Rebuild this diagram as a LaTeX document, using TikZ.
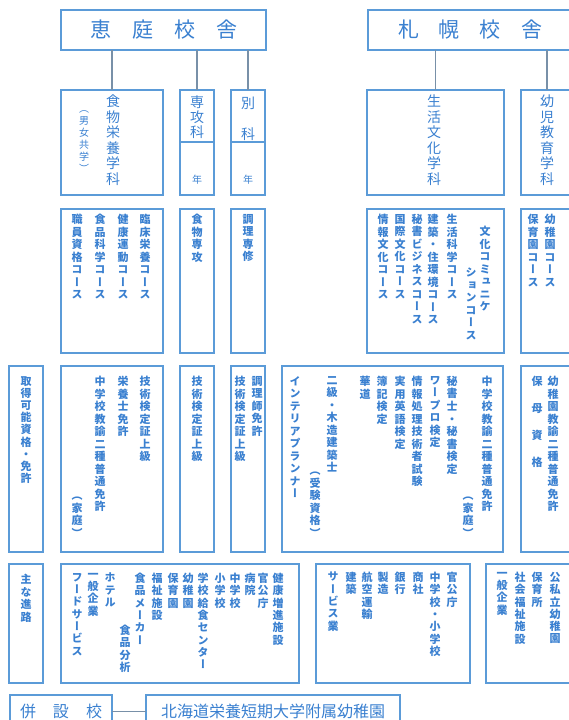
\documentclass[tikz,border=0pt]{standalone}
\usepackage{fontspec}
\usepackage{xcolor}
\usepackage{tikz}
\usetikzlibrary{positioning}
\newfontfamily\jpfont{Noto Sans CJK JP}
\newfontfamily\tatefont[RawFeature=+vert]{Noto Sans CJK JP}
\definecolor{lineblue}{HTML}{5B9BD8}
\definecolor{textblue}{HTML}{3A80D0}
\definecolor{linkgray}{HTML}{7890A8}
% one character per line, top to bottom
\makeatletter
\def\tate@loop#1{\ifx\relax#1\else\hbox to 1em{\hss#1\hss}\expandafter\tate@loop\fi}
\newcommand\tate[2][12.5pt]{\vtop{\baselineskip=#1\lineskiplimit=-50pt\lineskip=0pt\tate@loop#2\relax}}
\makeatother

\begin{document}
\begin{tikzpicture}[x=1pt, y=-1pt,
  box/.style={draw=lineblue, line width=1.3pt, inner sep=0pt, outer sep=0pt},
  link/.style={draw=linkgray, line width=1.1pt},
  tatecol/.style={anchor=north, inner sep=0pt, text=textblue, font=\tatefont\bfseries\fontsize{11}{12}\selectfont},
  bigcol/.style={tatecol, font=\tatefont\fontsize{14}{15}\selectfont},
  smallcol/.style={tatecol, font=\tatefont\fontsize{10}{11}\selectfont},
  headtext/.style={text=textblue, font=\jpfont\fontsize{21}{21}\selectfont}]
\useasboundingbox (0,0) rectangle (568,720);

% campuses
\node[box, headtext, minimum width=205pt, minimum height=40pt] (eniwa) at (163.5,30) {恵\hspace{21pt}庭\hspace{21pt}校\hspace{21pt}舎};
\node[box, minimum width=212pt, minimum height=40pt] (sapporo) at (474,30) {};
\node[headtext] (sapporotxt) at (470,30) {札\hspace{20pt}幌\hspace{20pt}校\hspace{20pt}舎};

% departments
\node[box, minimum width=102pt, minimum height=105pt] (shoku1) at (112,142.5) {};
\node[box, minimum width=34pt, minimum height=105pt] (senko1) at (197,142.5) {};
\node[box, minimum width=34pt, minimum height=105pt] (bekka1) at (248,142.5) {};
\node[box, minimum width=137pt, minimum height=105pt] (seikatsu1) at (435.5,142.5) {};
\node[box, minimum width=52pt, minimum height=105pt] (youji1) at (547,142.5) {};
\draw[lineblue, line width=1.1pt] (senko1.west |- 0,142) -- (senko1.east |- 0,142);
\draw[lineblue, line width=1.1pt] (bekka1.west |- 0,142) -- (bekka1.east |- 0,142);

\draw[link] (eniwa.south -| shoku1.north) -- (shoku1.north);
\draw[link] (eniwa.south -| senko1.north) -- (senko1.north);
\draw[link] (eniwa.south -| bekka1.north) -- (bekka1.north);
\draw[link] (sapporo.south -| seikatsu1.north) -- (seikatsu1.north);
\draw[link] (sapporo.south -| youji1.north) -- (youji1.north);

\node[bigcol] (d1) at (113,95) {\tate[15.5pt]{食物栄養学科}};
\node[smallcol] (d1b) at (84,110) {\tate[12pt]{（男女共学）}};
\node[bigcol] (d2) at (197,96) {\tate[15pt]{専攻科}};
\node[smallcol] (d2b) at (197,175) {年};
\node[bigcol] (d3) at (248,97) {\tate[15.5pt]{別　科}};
\node[smallcol] (d3b) at (248,175) {年};
\node[bigcol] (d4) at (434,95) {\tate[15.5pt]{生活文化学科}};
\node[bigcol] (d5) at (547,95) {\tate[15.5pt]{幼児教育学科}};

% courses
\node[box, minimum width=102pt, minimum height=144pt] (shoku2) at (112,281) {};
\node[box, minimum width=34pt, minimum height=144pt] (senko2) at (197,281) {};
\node[box, minimum width=34pt, minimum height=144pt] (bekka2) at (248,281) {};
\node[box, minimum width=137pt, minimum height=144pt] (seikatsu2) at (435.5,281) {};
\node[box, minimum width=52pt, minimum height=144pt] (youji2) at (547,281) {};

\node[tatecol] (c1) at (145,214) {\tate{臨床栄養コース}};
\node[tatecol] (c2) at (123,214) {\tate{健康運動コース}};
\node[tatecol] (c3) at (100,214) {\tate{食品科学コース}};
\node[tatecol] (c4) at (77,214) {\tate{職員資格コース}};
\node[tatecol] (c5) at (197,214) {\tate{食物専攻}};
\node[tatecol] (c6) at (248,214) {\tate{調理専修}};
\node[tatecol] (c7) at (485,226) {\tate{文化コミュニケ}};
\node[tatecol] (c8) at (471,268) {\tate{ションコース}};
\node[tatecol] (c9) at (452,214) {\tate{生活科学コース}};
\node[tatecol] (c10) at (433,214) {\tate{建築・住環境コース}};
\node[tatecol] (c11) at (417,214) {\tate{秘書ビジネスコース}};
\node[tatecol] (c12) at (400,214) {\tate{国際文化コース}};
\node[tatecol] (c13) at (383,214) {\tate{情報文化コース}};
\node[tatecol] (c14) at (550,214) {\tate{幼稚園コース}};
\node[tatecol] (c15) at (533,214) {\tate{保育園コース}};

% licences
\node[box, minimum width=34pt, minimum height=186pt] (shutoku) at (26,459) {};
\node[box, minimum width=102pt, minimum height=186pt] (shoku3) at (112,459) {};
\node[box, minimum width=34pt, minimum height=186pt] (senko3) at (197,459) {};
\node[box, minimum width=34pt, minimum height=186pt] (bekka3) at (248,459) {};
\node[box, minimum width=221pt, minimum height=186pt] (seikatsu3) at (392.5,459) {};
\node[box, minimum width=52pt, minimum height=186pt] (youji3) at (547,459) {};

\node[tatecol] (q0) at (26,376) {\tate[12.2pt]{取得可能資格・免許}};
\node[tatecol] (q1) at (145,376) {\tate{技術検定証上級}};
\node[tatecol] (q2) at (123,376) {\tate{栄養士免許}};
\node[tatecol] (q3) at (100,376) {\tate{中学校教諭二種普通免許}};
\node[tatecol] (q4) at (77,497) {\tate{（家庭）}};
\node[tatecol] (q5) at (197,376) {\tate{技術検定証上級}};
\node[tatecol] (q6) at (257,376) {\tate{調理師免許}};
\node[tatecol] (q7) at (240,376) {\tate{技術検定証上級}};
\node[tatecol] (q8) at (487,376) {\tate{中学校教諭二種普通免許}};
\node[tatecol] (q9) at (468,497) {\tate{（家庭）}};
\node[tatecol] (q10) at (452,376) {\tate{秘書士・秘書検定}};
\node[tatecol] (q11) at (435,376) {\tate{ワープロ検定}};
\node[tatecol] (q12) at (417,376) {\tate{情報処理技術者試験}};
\node[tatecol] (q13) at (400,376) {\tate{実用英語検定}};
\node[tatecol] (q14) at (382,376) {\tate{簿記検定}};
\node[tatecol] (q15) at (365,376) {\tate{華道}};
\node[tatecol] (q16) at (332,376) {\tate{二級・木造建築士}};
\node[tatecol] (q17) at (315,472) {\tate{（受験資格）}};
\node[tatecol] (q18) at (295,376) {\tate{インテリアプランナー}};
\node[tatecol] (q19) at (553,376) {\tate{幼稚園教諭二種普通免許}};
\node[tatecol] (q20) at (537,376) {\tate[27pt]{保母資格}};

% careers
\node[box, minimum width=34pt, minimum height=119pt] (shinro) at (26,623.5) {};
\node[box, minimum width=238pt, minimum height=119pt] (shoku4) at (180,623.5) {};
\node[box, minimum width=154pt, minimum height=119pt] (seikatsu4) at (393,623.5) {};
\node[box, minimum width=89pt, minimum height=119pt] (youji4) at (530.5,623.5) {};

\node[tatecol] (j0) at (26,574) {\tate{主な進路}};
\node[tatecol] (j1) at (278,573) {\tate[12.3pt]{健康増進施設}};
\node[tatecol] (j2) at (263,573) {\tate[12.3pt]{官公庁}};
\node[tatecol] (j3) at (250,573) {\tate[12.3pt]{病院}};
\node[tatecol] (j4) at (235,573) {\tate[12.3pt]{中学校}};
\node[tatecol] (j5) at (220,573) {\tate[12.3pt]{小学校}};
\node[tatecol] (j6) at (203,573) {\tate[12.3pt]{学校給食センター}};
\node[tatecol] (j7) at (188,573) {\tate[12.3pt]{幼稚園}};
\node[tatecol] (j8) at (173,573) {\tate[12.3pt]{保育園}};
\node[tatecol] (j9) at (157,573) {\tate[12.3pt]{福祉施設}};
\node[tatecol] (j10) at (140,573) {\tate[12.3pt]{食品メーカー}};
\node[tatecol] (j11) at (125,625) {\tate[12.3pt]{食品分析}};
\node[tatecol] (j12) at (110,573) {\tate[12.3pt]{ホテル}};
\node[tatecol] (j13) at (93,573) {\tate[12.3pt]{一般企業}};
\node[tatecol] (j14) at (77,573) {\tate[12.3pt]{フードサービス}};
\node[tatecol] (j15) at (452,572) {\tate[12.3pt]{官公庁}};
\node[tatecol] (j16) at (435,572) {\tate[12.3pt]{中学校・小学校}};
\node[tatecol] (j17) at (418,572) {\tate[12.3pt]{商社}};
\node[tatecol] (j18) at (400,572) {\tate[12.3pt]{銀行}};
\node[tatecol] (j19) at (383,572) {\tate[12.3pt]{製造}};
\node[tatecol] (j20) at (367,572) {\tate[12.3pt]{航空運輸}};
\node[tatecol] (j21) at (351,572) {\tate[12.3pt]{建築}};
\node[tatecol] (j22) at (333,572) {\tate[12.3pt]{サービス業}};
\node[tatecol] (j23) at (555,572) {\tate[12.3pt]{公私立幼稚園}};
\node[tatecol] (j24) at (537,572) {\tate[12.3pt]{保育所}};
\node[tatecol] (j25) at (520,572) {\tate[12.3pt]{社会福祉施設}};
\node[tatecol] (j26) at (502,572) {\tate[12.3pt]{一般企業}};

% attached school
\node[box, text=textblue, font=\jpfont\fontsize{16}{16}\selectfont, minimum width=102pt, minimum height=33pt] (heisetsu) at (61,711.5) {併\hspace{17pt}設\hspace{17pt}校};
\node[box, text=textblue, font=\jpfont\fontsize{16}{16}\selectfont, minimum width=254pt, minimum height=33pt] (fuzoku) at (273,711.5) {北海道栄養短期大学附属幼稚園};
\draw[link] (heisetsu) -- (fuzoku);
\end{tikzpicture}
\end{document}
